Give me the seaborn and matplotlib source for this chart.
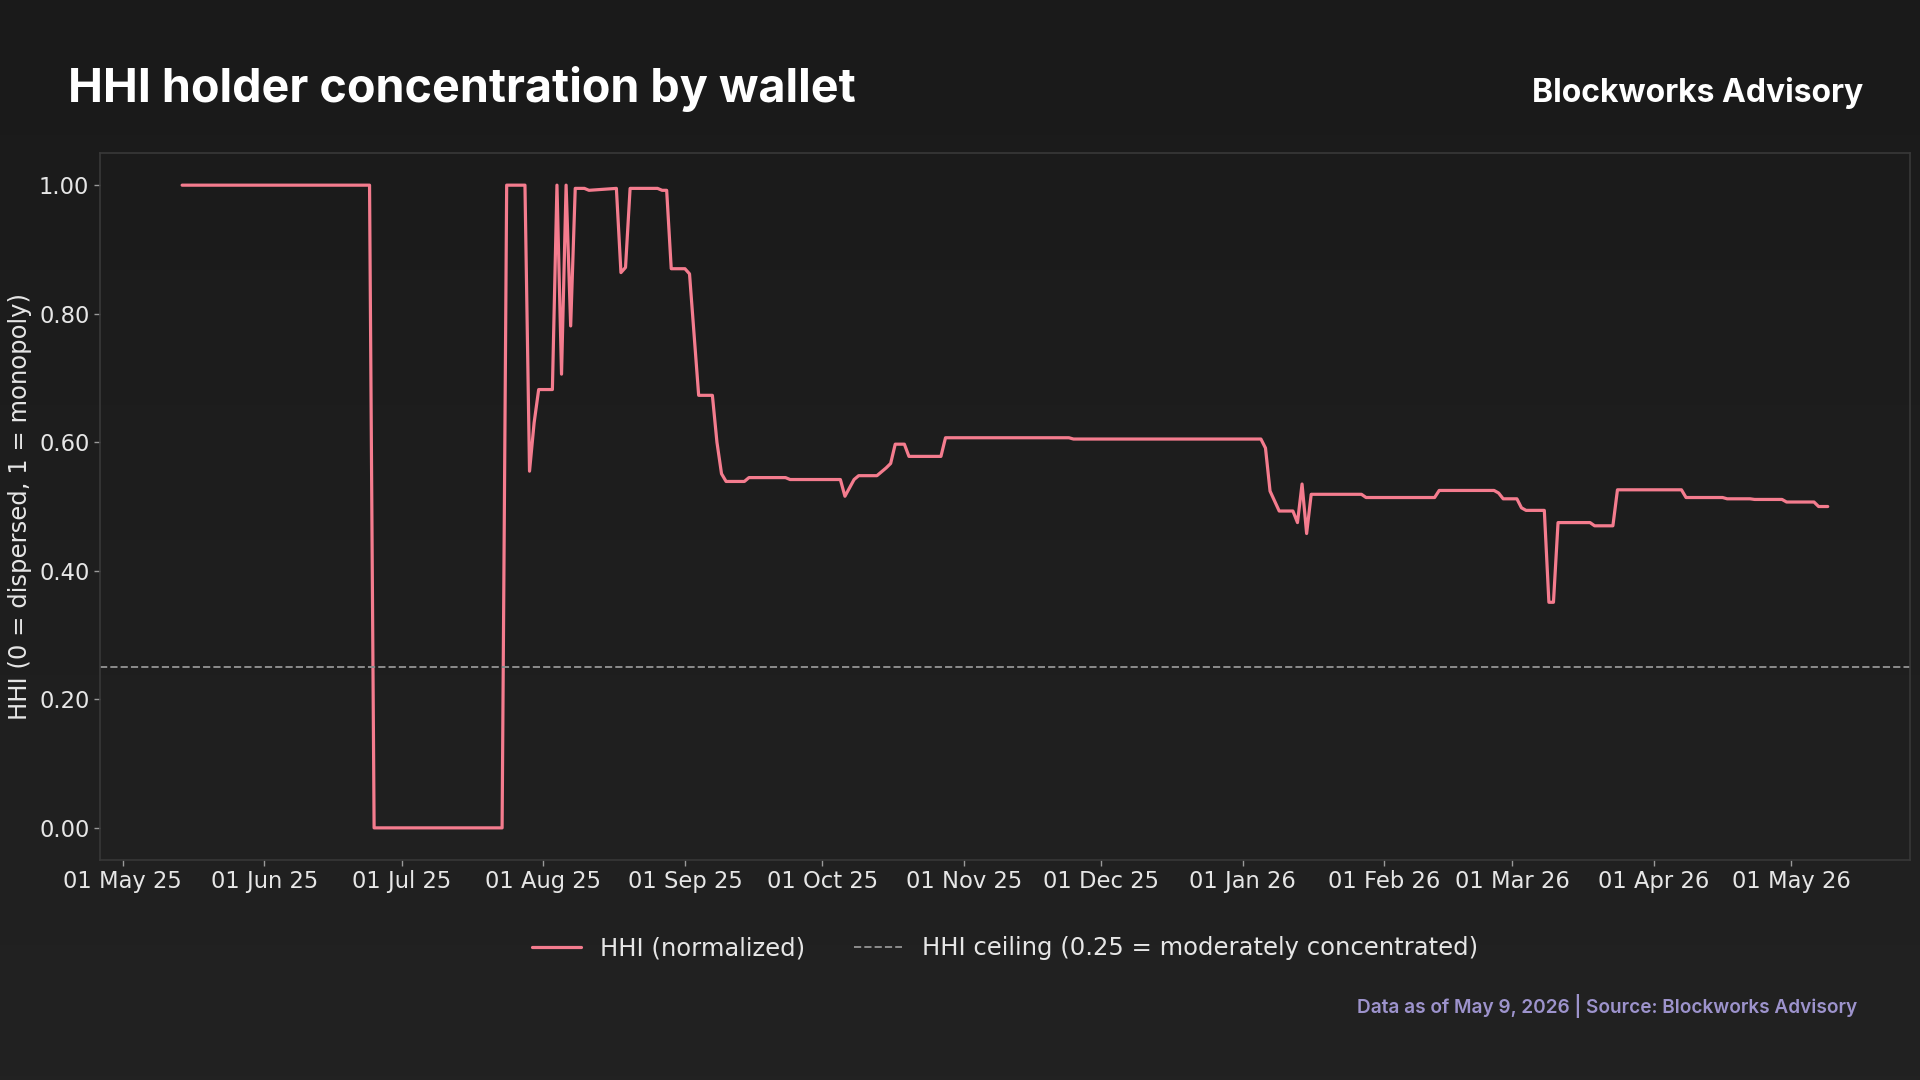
import numpy as np
import pandas as pd
import matplotlib
matplotlib.use("Agg")
import matplotlib.pyplot as plt
import matplotlib.dates as mdates
from matplotlib.colors import LinearSegmentedColormap
import seaborn as sns

# HHI series (vertices where the value changes)
dates = [
    "2025-05-14", "2025-06-24", "2025-06-25", "2025-07-23", "2025-07-24",
    "2025-07-28", "2025-07-29", "2025-07-30", "2025-07-31", "2025-08-03",
    "2025-08-04", "2025-08-05", "2025-08-06", "2025-08-07", "2025-08-08",
    "2025-08-10", "2025-08-11", "2025-08-17", "2025-08-18", "2025-08-19",
    "2025-08-20", "2025-08-26", "2025-08-27", "2025-08-28", "2025-08-29",
    "2025-09-01", "2025-09-02", "2025-09-04", "2025-09-07", "2025-09-08",
    "2025-09-09", "2025-09-10", "2025-09-14", "2025-09-15", "2025-09-23",
    "2025-09-24", "2025-10-05", "2025-10-06", "2025-10-08", "2025-10-09",
    "2025-10-13", "2025-10-15", "2025-10-16", "2025-10-17", "2025-10-19",
    "2025-10-20", "2025-10-27", "2025-10-28", "2025-11-24", "2025-11-25",
    "2026-01-05", "2026-01-06", "2026-01-07", "2026-01-09", "2026-01-12",
    "2026-01-13", "2026-01-14", "2026-01-15", "2026-01-16", "2026-01-27",
    "2026-01-28", "2026-02-12", "2026-02-13", "2026-02-25", "2026-02-26",
    "2026-02-27", "2026-03-02", "2026-03-03", "2026-03-04", "2026-03-08",
    "2026-03-09", "2026-03-10", "2026-03-11", "2026-03-18", "2026-03-19",
    "2026-03-23", "2026-03-24", "2026-04-07", "2026-04-08", "2026-04-16",
    "2026-04-17", "2026-04-22", "2026-04-23", "2026-04-29", "2026-04-30",
    "2026-05-06", "2026-05-07", "2026-05-09",
]
hhi = [
    1.000, 1.000, 0.000, 0.000, 1.000,
    1.000, 0.555, 0.630, 0.682, 0.682,
    1.000, 0.706, 1.000, 0.781, 0.995,
    0.995, 0.992, 0.995, 0.864, 0.872,
    0.995, 0.995, 0.992, 0.992, 0.870,
    0.870, 0.862, 0.673, 0.673, 0.600,
    0.551, 0.539, 0.539, 0.545, 0.545,
    0.542, 0.542, 0.516, 0.542, 0.548,
    0.548, 0.560, 0.567, 0.597, 0.597,
    0.578, 0.578, 0.607, 0.607, 0.605,
    0.605, 0.591, 0.524, 0.493, 0.493,
    0.475, 0.535, 0.458, 0.519, 0.519,
    0.514, 0.514, 0.525, 0.525, 0.521,
    0.512, 0.512, 0.498, 0.494, 0.494,
    0.351, 0.351, 0.475, 0.475, 0.470,
    0.470, 0.526, 0.526, 0.514, 0.514,
    0.512, 0.512, 0.511, 0.511, 0.507,
    0.507, 0.500, 0.500,
]
ceiling = 0.25

title = "HHI holder concentration by wallet"
brand = "Blockworks Advisory"
footer = "Data as of May 9, 2026 | Source: Blockworks Advisory"
ylabel = "HHI (0 = dispersed, 1 = monopoly)"

df = pd.DataFrame({"date": pd.to_datetime(dates), "hhi": hhi})

sns.set_theme(style="dark")
plt.rcParams["font.family"] = ["DejaVu Sans"]

LINE = "#F47C8E"
TXT = "#E6E6E6"

fig = plt.figure(figsize=(19.2, 10.8), dpi=100)
fig.patch.set_facecolor("#1c1c1c")

# subtle vertical background gradient
bg = fig.add_axes([0, 0, 1, 1], zorder=-10)
grad = LinearSegmentedColormap.from_list("bg", ["#222222", "#1a1a1a"])
bg.imshow(np.linspace(0, 1, 256).reshape(-1, 1), aspect="auto", cmap=grad,
          origin="lower", extent=[0, 1, 0, 1])
bg.axis("off")

ax = fig.add_axes([0.052, 0.2037, 0.9428, 0.6546])
ax.set_facecolor("none")

sns.lineplot(data=df, x="date", y="hhi", ax=ax, color=LINE, linewidth=2.3,
             label="HHI (normalized)")
ax.axhline(ceiling, color="#8C8C8C", linestyle="--", linewidth=1.4,
           label="HHI ceiling (0.25 = moderately concentrated)")

ax.set_ylim(-0.05, 1.05)
ax.set_yticks(np.arange(0, 1.01, 0.2))
ax.yaxis.set_major_formatter(matplotlib.ticker.FormatStrFormatter("%.2f"))
ax.xaxis.set_major_locator(mdates.MonthLocator())
ax.xaxis.set_major_formatter(mdates.DateFormatter("%d %b %y"))
ax.margins(x=0.05)

ax.set_xlabel("")
ax.set_ylabel(ylabel, fontsize=17.5, color=TXT, labelpad=5)
ax.tick_params(axis="both", labelsize=16.3, colors="#9A9A9A", labelcolor=TXT,
               length=4, width=1, bottom=True, left=True)
ax.grid(False)
for s in ax.spines.values():
    s.set_visible(True)
    s.set_color("#383838")
    s.set_linewidth(1.2)

handles, labels = ax.get_legend_handles_labels()
ax.legend_.remove()
leg = fig.legend(handles, labels, loc="center", bbox_to_anchor=(0.5234, 0.122),
                 ncol=2, frameon=False, fontsize=17.5)
for t in leg.get_texts():
    t.set_color(TXT)

fig.text(0.0354, 0.9058, title, fontsize=33.6, fontweight="bold", color="white",
         family=["Inter", "DejaVu Sans"], va="baseline", ha="left")
fig.text(0.9703, 0.9058, brand, fontsize=23, fontweight="bold", color="white",
         family=["Inter", "DejaVu Sans"], va="baseline", ha="right")
fig.text(0.967, 0.062, footer, fontsize=13.7, fontweight="semibold",
         color="#9D93CC", family=["Inter", "DejaVu Sans"], va="baseline",
         ha="right")

fig.savefig("out.png", dpi=100, facecolor=fig.get_facecolor())
